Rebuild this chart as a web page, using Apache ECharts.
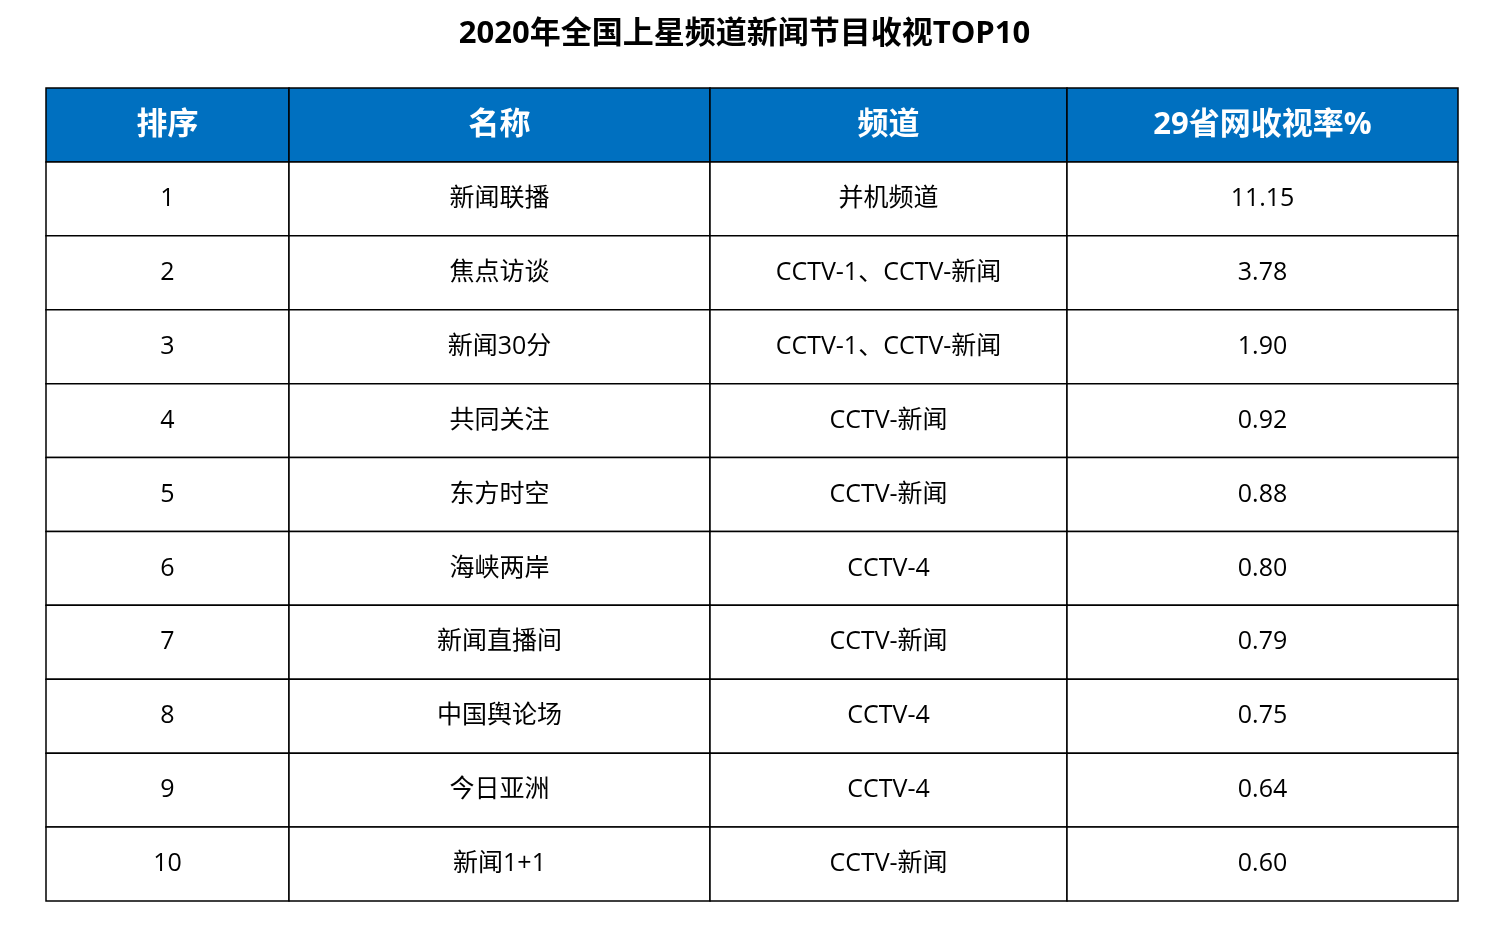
<!DOCTYPE html>
<html><head><meta charset="utf-8">
<script src="https://cdn.jsdelivr.net/npm/echarts@6/dist/echarts.min.js"></script>
<style>html,body{margin:0;padding:0;background:#fff}#c{width:1489px;height:927px}</style>
</head><body><div id="c"></div>
<script>
var headers = ['排序', '名称', '频道', '29省网收视率%'];
var ranks = ['1','2','3','4','5','6','7','8','9','10'];
var names = ['新闻联播','焦点访谈','新闻30分','共同关注','东方时空','海峡两岸','新闻直播间','中国舆论场','今日亚洲','新闻1+1'];
var channels = ['并机频道','CCTV-1、CCTV-新闻','CCTV-1、CCTV-新闻','CCTV-新闻','CCTV-新闻','CCTV-4','CCTV-新闻','CCTV-4','CCTV-4','CCTV-新闻'];
var ratings = ['11.15','3.78','1.90','0.92','0.88','0.80','0.79','0.75','0.64','0.60'];

var FONT = '"Open Sans", "Noto Sans CJK SC", sans-serif';
var colEdges = [0, 243, 664, 1021, 1412];
var cols = [ranks, names, channels, ratings];
var data = [];
headers.forEach(function(h, c){ data.push([c, 0, h]); });
for (var r = 0; r < ranks.length; r++) for (var c = 0; c < 4; c++) data.push([c, r + 1, cols[c][r]]);

var chart = echarts.init(document.getElementById('c'));
chart.setOption({
  title: { text: '2020年全国上星频道新闻节目收视TOP10', left: 'center', top: 14,
    textStyle: { fontFamily: FONT, fontSize: 31, fontWeight: 'bold', color: '#000' } },
  grid: { left: 46, top: 88, width: 1412, height: 813 },
  xAxis: { type: 'value', min: 0, max: 1412, show: false },
  yAxis: { type: 'value', min: 0, max: 11, inverse: true, show: false },
  series: [{
    type: 'custom', data: data, animation: false,
    renderItem: function(params, api){
      var c = api.value(0), r = api.value(1), txt = data[params.dataIndex][2];
      var p1 = api.coord([colEdges[c], r]), p2 = api.coord([colEdges[c+1], r+1]);
      var head = r === 0;
      return { type: 'rect',
        shape: { x: p1[0], y: p1[1], width: p2[0]-p1[0], height: p2[1]-p1[1] },
        style: { fill: head ? '#0070C0' : '#fff', stroke: '#000', lineWidth: 1.5 },
        textContent: { style: { text: txt, fill: head ? '#fff' : '#000',
          fontFamily: FONT, fontSize: head ? 31 : 25, fontWeight: head ? 'bold' : 'normal' } },
        textConfig: { position: 'inside' } };
    }
  }]
});
</script></body></html>
